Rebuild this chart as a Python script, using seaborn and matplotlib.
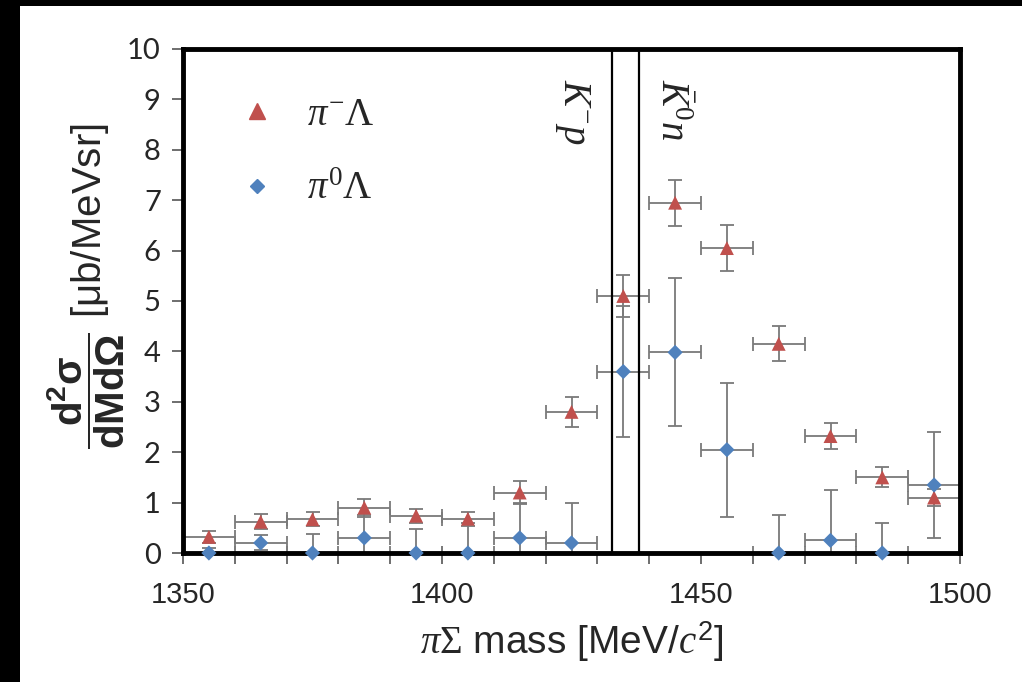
import numpy as np
import pandas as pd
import matplotlib.pyplot as plt
import matplotlib.patches as patches
from matplotlib.lines import Line2D
import seaborn as sns

# bin centres [MeV/c^2], bin half-width 5 MeV
mass = [1355, 1365, 1375, 1385, 1395, 1405, 1415, 1425,
        1435, 1445, 1455, 1465, 1475, 1485, 1495]
mass_err = [5] * 15

# pi- Lambda
pim_val = [0.32, 0.62, 0.67, 0.90, 0.74, 0.68, 1.20, 2.80,
           5.10, 6.95, 6.05, 4.15, 2.32, 1.50, 1.10]
pim_err = [0.12, 0.15, 0.14, 0.18, 0.14, 0.14, 0.22, 0.30,
           0.42, 0.46, 0.45, 0.35, 0.25, 0.20, 0.16]

# pi0 Lambda
pi0_val = [0.0, 0.20, 0.0, 0.30, 0.0, 0.0, 0.30, 0.20,
           3.60, 3.98, 2.05, 0.0, 0.25, 0.0, 1.35]
pi0_err = [0.10, 0.15, 0.37, 0.45, 0.48, 0.60, 0.70, 0.80,
           1.30, 1.47, 1.33, 0.75, 1.00, 0.60, 1.05]

thresholds = [1432.8, 1438.0]
threshold_labels = [r"$K^{-}p$", r"$\bar{K}^{0}n$"]
threshold_text_x = [1425.1, 1444.3]

red = "#C0504D"
blue = "#4F81BD"
grey = "#7a7a7a"

sns.set_theme(style="white")
plt.rcParams["font.family"] = ["Liberation Sans", "DejaVu Sans"]
plt.rcParams["mathtext.fontset"] = "custom"
plt.rcParams["mathtext.rm"] = "Liberation Serif"
plt.rcParams["mathtext.it"] = "Liberation Serif:italic"
plt.rcParams["mathtext.bf"] = "Liberation Sans:bold"
plt.rcParams["mathtext.sf"] = "Liberation Sans"

df = pd.DataFrame({
    "mass": mass * 2,
    "value": pim_val + pi0_val,
    "channel": ["pim"] * len(mass) + ["pi0"] * len(mass),
})

fig = plt.figure(figsize=(10.22, 6.82), dpi=100, facecolor="black")
# white slide area
fig.patches.append(patches.Rectangle((20 / 1022, 0), 1, 1 - 6 / 682,
                                     transform=fig.transFigure,
                                     facecolor="white", edgecolor="none", zorder=-5))
ax = fig.add_axes([183 / 1022, 1 - 553 / 682, (960 - 183) / 1022, (553 - 49) / 682])
ax.set_zorder(2)

# error bars
ax.errorbar(mass, pim_val, yerr=pim_err, xerr=mass_err, fmt="none",
            ecolor=grey, elinewidth=1.3, capsize=5, capthick=1.3, zorder=2)
ax.errorbar(mass, pi0_val, yerr=pi0_err, xerr=mass_err, fmt="none",
            ecolor=grey, elinewidth=1.3, capsize=5, capthick=1.3, zorder=2)

sns.scatterplot(data=df, x="mass", y="value", hue="channel", style="channel",
                palette={"pim": red, "pi0": blue},
                markers={"pim": "^", "pi0": "D"},
                size="channel", sizes={"pim": 100, "pi0": 60},
                linewidth=0, legend=False, ax=ax, zorder=4, clip_on=False)

for xv in thresholds:
    ax.axvline(xv, color="black", lw=1.6, zorder=3)
for xt, lab in zip(threshold_text_x, threshold_labels):
    ax.text(xt, 9.4, lab, rotation=270, fontsize=28, ha="center", va="top")

ax.set_xlim(1350, 1500)
ax.set_ylim(0, 10)
ax.set_xticks([1350, 1400, 1450, 1500])
ax.set_xticks(np.arange(1350, 1501, 10), minor=True)
ax.set_yticks(range(0, 11))
ax.tick_params(axis="both", which="both", direction="out", length=8,
               width=1.2, color="#555555", bottom=True, left=True)
ax.tick_params(axis="x", labelsize=21, pad=12)
ax.tick_params(axis="y", labelsize=21, pad=8)
for lab in ax.get_yticklabels():
    lab.set_fontfamily("Lato")
for s in ax.spines.values():
    s.set_visible(True)
    s.set_color("black")
    s.set_linewidth(3.5)

ax.set_xlabel(r"$\pi\Sigma$ mass [MeV/$c^{\mathsf{2}}$]", fontsize=28, labelpad=8)
ax.set_ylabel(r"$\mathbf{\dfrac{d^2\sigma}{dMd\Omega}}$ [μb/MeVsr]", fontsize=29)
ax.yaxis.set_label_coords(-0.072, 0.53)

handles = [
    Line2D([], [], ls="none", marker="^", color=red, markersize=11),
    Line2D([], [], ls="none", marker="D", color=blue, markersize=7),
]
ax.legend(handles, [r"$\pi^{-}\Lambda$", r"$\pi^{0}\Lambda$"], loc="upper left",
          bbox_to_anchor=(0.02, 0.975), frameon=False, fontsize=28,
          labelspacing=1.0, handletextpad=0.7, handlelength=1.2)

fig.savefig("out.png", dpi=100, facecolor=fig.get_facecolor())
